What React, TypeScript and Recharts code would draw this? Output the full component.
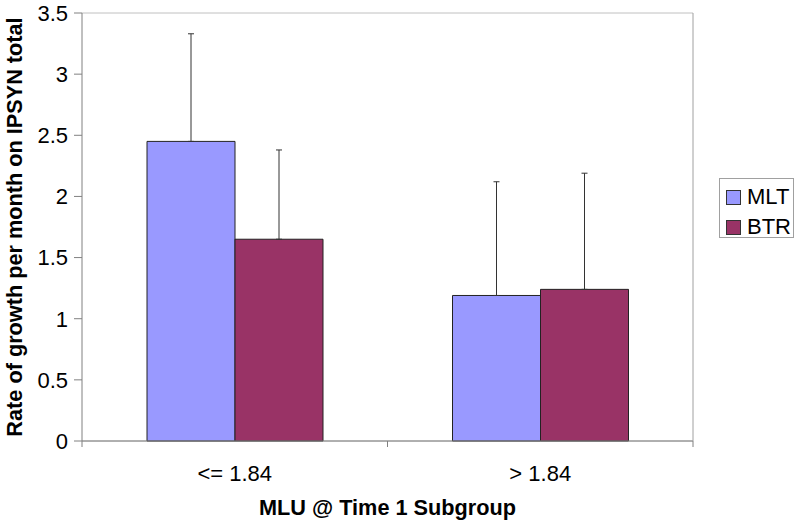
import { Bar, BarChart, CartesianGrid, ErrorBar, Label, Legend, XAxis, YAxis } from "recharts";

const categories = ["<= 1.84", "> 1.84"];
const mltValues = [2.45, 1.19];
const btrValues = [1.65, 1.24];
// upper error only (the bars show just the top whisker)
const mltErrors = [0.88, 0.93];
const btrErrors = [0.73, 0.95];
const yTicks = [0, 0.5, 1, 1.5, 2, 2.5, 3, 3.5];

const MLT_COLOR = "#9999ff";
const BTR_COLOR = "#993366";
const FONT = "'Liberation Sans', Arial, sans-serif";

const W = 800;
const H = 524;
const LEFT = 82;
const RIGHT = 107;
const BAND = (W - LEFT - RIGHT) / categories.length;

const data = categories.map((c, i) => ({
  name: c,
  MLT: mltValues[i],
  BTR: btrValues[i],
  mltErr: [0, mltErrors[i]],
  btrErr: [0, btrErrors[i]],
}));

function XTick(props: any) {
  const { x, y, payload, index } = props;
  return (
    <g>
      {index === 0 && <line x1={x - BAND / 2} x2={x - BAND / 2} y1={y} y2={y + 6} stroke="#808080" />}
      <line x1={x + BAND / 2} x2={x + BAND / 2} y1={y} y2={y + 6} stroke="#808080" />
      <text x={x} y={y + 40} textAnchor="middle" fontSize={22} fill="#000" fontFamily={FONT}>
        {payload.value}
      </text>
    </g>
  );
}

function LegendBox() {
  const items = [
    { label: "MLT", color: MLT_COLOR },
    { label: "BTR", color: BTR_COLOR },
  ];
  return (
    <div
      style={{
        width: 73,
        height: 58,
        border: "1px solid #a0a0a0",
        position: "relative",
        fontFamily: FONT,
        background: "#fff",
      }}
    >
      {items.map((it, i) => (
        <div key={it.label} style={{ position: "absolute", left: 6, top: 6 + i * 30, display: "flex", alignItems: "center" }}>
          <span
            style={{
              display: "inline-block",
              width: 13,
              height: 13,
              background: it.color,
              border: "1px solid #333",
              marginRight: 6,
            }}
          />
          <span style={{ fontSize: 22, lineHeight: "24px", color: "#000" }}>{it.label}</span>
        </div>
      ))}
    </div>
  );
}

export default function App() {
  return (
    <div style={{ position: "absolute", left: 0, top: 0, width: W, height: H, background: "#fff" }}>
      <BarChart
        width={W}
        height={H}
        data={data}
        margin={{ top: 13, right: RIGHT - 1, bottom: 0, left: 0 }}
        barCategoryGap={65}
        barGap={0}
      >
        <CartesianGrid stroke="#c0c0c0" vertical={false} />
        <XAxis
          dataKey="name"
          height={83}
          tickSize={0}
          tickMargin={0}
          tickLine={false}
          axisLine={{ stroke: "#808080" }}
          tick={<XTick />}
          interval={0}
        >
          <Label
            content={() => (
              <text x={LEFT + (W - LEFT - RIGHT) / 2} y={515} textAnchor="middle" fontSize={21.7} fontWeight="bold" fontFamily={FONT} fill="#000">
                MLU @ Time 1 Subgroup
              </text>
            )}
          />
        </XAxis>
        <YAxis
          yAxisId="l"
          width={LEFT}
          domain={[0, 3.5]}
          ticks={yTicks}
          tickSize={8}
          tickMargin={6}
          tickLine={{ stroke: "#808080" }}
          axisLine={{ stroke: "#808080" }}
          tick={{ fontSize: 22, fill: "#000", fontFamily: FONT }}
          interval={0}
        >
          <Label
            content={() => (
              <text
                x={22}
                y={227}
                transform="rotate(-90 22 227)"
                textAnchor="middle"
                fontSize={21.7}
                fontWeight="bold"
                fontFamily={FONT}
                fill="#000"
              >
                Rate of growth per month on IPSYN total
              </text>
            )}
          />
        </YAxis>
        <YAxis
          yAxisId="r"
          orientation="right"
          width={1}
          tick={false}
          tickLine={false}
          tickSize={0}
          axisLine={{ stroke: "#a0a0a0" }}
          domain={[0, 3.5]}
        />
        <Legend
          layout="vertical"
          align="center"
          verticalAlign="middle"
          content={() => <LegendBox />}
          wrapperStyle={{ position: "absolute", left: 719, top: 178, width: 75, height: 60 }}
        />
        <Bar dataKey="MLT" yAxisId="l" fill={MLT_COLOR} stroke="#222" strokeWidth={1} isAnimationActive={false}>
          <ErrorBar dataKey="mltErr" width={3} stroke="#333" strokeWidth={1} direction="y" isAnimationActive={false} />
        </Bar>
        <Bar dataKey="BTR" yAxisId="l" fill={BTR_COLOR} stroke="#222" strokeWidth={1} isAnimationActive={false}>
          <ErrorBar dataKey="btrErr" width={3} stroke="#333" strokeWidth={1} direction="y" isAnimationActive={false} />
        </Bar>
      </BarChart>
    </div>
  );
}
